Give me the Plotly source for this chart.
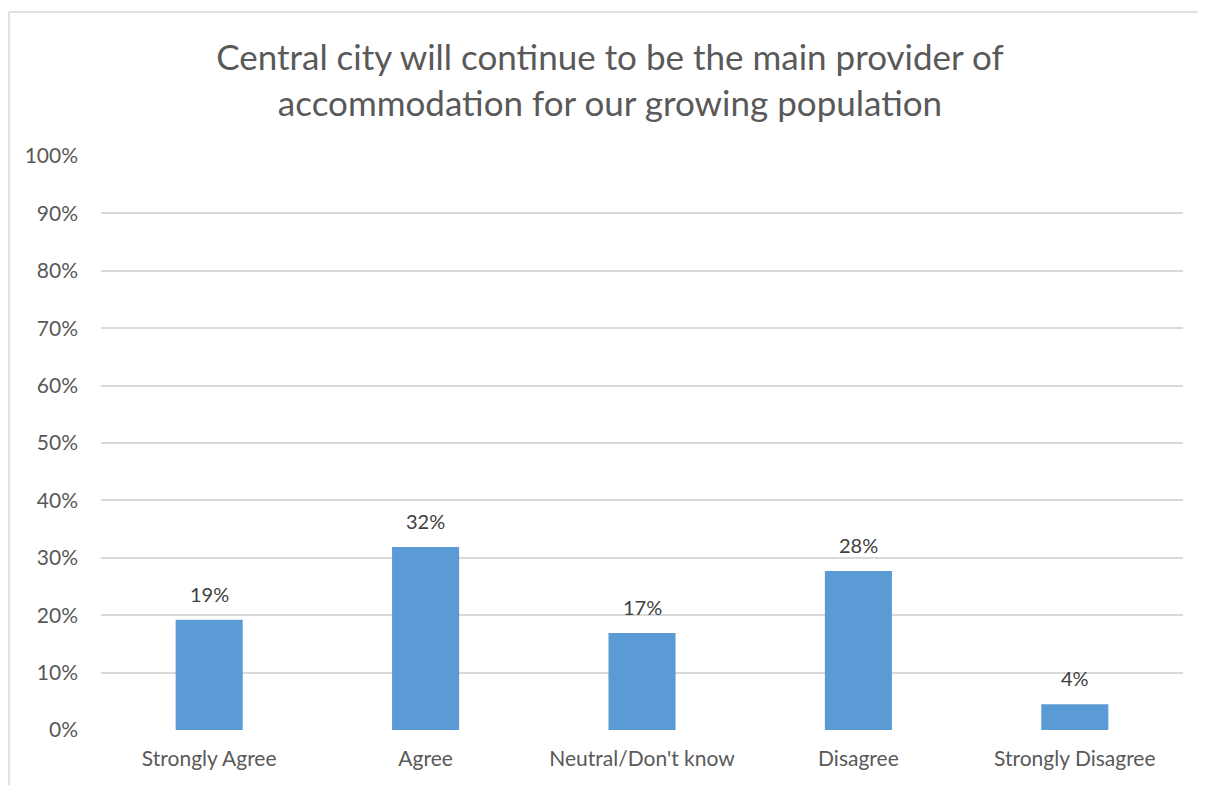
import plotly.graph_objects as go

categories = ["Strongly Agree", "Agree", "Neutral/Don't know", "Disagree", "Strongly Disagree"]
values = [0.192, 0.319, 0.169, 0.277, 0.045]
labels = ["19%", "32%", "17%", "28%", "4%"]
tick_vals = [0, 0.1, 0.2, 0.3, 0.4, 0.5, 0.6, 0.7, 0.8, 0.9, 1.0]
tick_text = ["0%", "10%", "20%", "30%", "40%", "50%", "60%", "70%", "80%", "90%", "100%"]
title_text = "Central city will continue to be the main provider of<br>accommodation for our growing population"

FONT = "Lato, Carlito, Calibri, sans-serif"

fig = go.Figure()
fig.add_trace(go.Bar(x=categories, y=values, marker=dict(color="#5B9BD5", line=dict(width=0)),
                     hoverinfo="skip"))

for c, v, t in zip(categories, values, labels):
    fig.add_annotation(x=c, y=v, text=t, showarrow=False, yanchor="bottom", yshift=12,
                       font=dict(family=FONT, size=20, color="#404040"))

# chart border (cropped at right and bottom)
fig.add_shape(type="line", xref="paper", yref="paper", x0=-0.085, x1=-0.085, y0=-0.3, y1=1.2509,
              line=dict(color="#d9d9d9", width=1.5))
fig.add_shape(type="line", xref="paper", yref="paper", x0=-0.085, x1=1.2, y0=1.2509, y1=1.2509,
              line=dict(color="#d9d9d9", width=1.5))

W, H = 1198, 777
fig.update_layout(
    width=W, height=H,
    margin=dict(l=93, r=23, t=148, b=55),
    paper_bgcolor="white", plot_bgcolor="white",
    bargap=0.69,
    showlegend=False,
    title=dict(text=title_text, x=602 / W, xanchor="center", y=1 - 62 / H, yanchor="middle",
               xref="container", yref="container",
               font=dict(family=FONT, size=35, color="#595959")),
    font=dict(family=FONT, size=21, color="#595959"),
)
fig.update_yaxes(range=[0, 1.0], tickvals=tick_vals, ticktext=tick_text, showgrid=True,
                 gridcolor="#d9d9d9", gridwidth=1.5, zeroline=False, showline=False,
                 ticklabelstandoff=22, tickfont=dict(family=FONT, size=21, color="#595959"),
                 fixedrange=True)
fig.update_xaxes(showline=False, showgrid=False, ticks="", ticklabelstandoff=14,
                 tickfont=dict(family=FONT, size=21, color="#595959"), fixedrange=True)

fig.write_html("out.html")
